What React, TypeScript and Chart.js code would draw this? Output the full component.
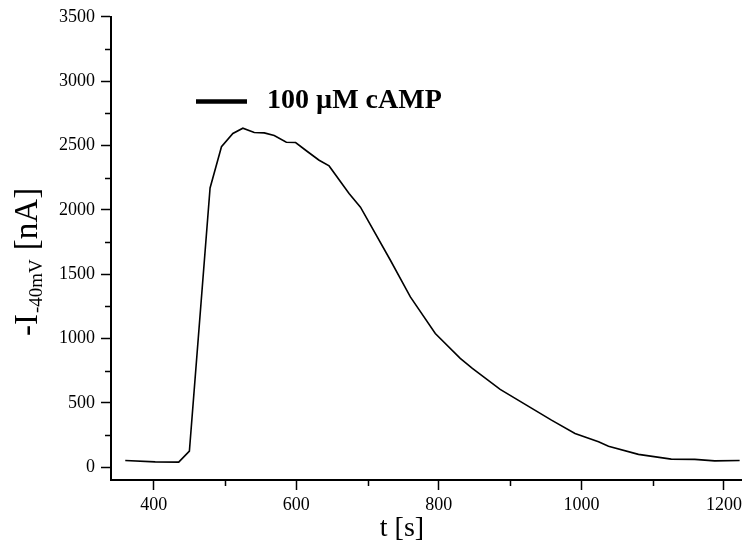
import React, { useEffect, useRef } from "react";
import { Chart, registerables } from "chart.js";

Chart.register(...registerables);

// time in seconds
const timeS = [360, 402, 435, 450, 479, 495, 511, 525, 541, 555, 569, 586, 599, 615, 632, 646, 674, 690, 732, 760, 795, 830, 847, 886, 958, 991, 1024, 1038, 1080, 1126, 1159, 1187, 1222];
// -I(-40mV) in nA
const currentNA = [52, 41, 39, 124, 2170, 2490, 2593, 2634, 2601, 2598, 2577, 2525, 2523, 2455, 2385, 2341, 2127, 2020, 1608, 1323, 1039, 845, 767, 604, 365, 262, 197, 163, 99, 62, 60, 49, 52];

const xMajorTicks = [400, 600, 800, 1000, 1200];
const xMinorTicks = [500, 700, 900, 1100];
const yMajorTicks = [0, 500, 1000, 1500, 2000, 2500, 3000, 3500];
const yMinorTicks = [250, 750, 1250, 1750, 2250, 2750, 3250];

const legendLabel = "100 µM cAMP";
const xTitle = "t [s]";
const yTitleMain = "-I";
const yTitleSub = "-40mV";
const yTitleUnit = "[nA]";

const SERIF = "'Liberation Serif', 'Times New Roman', serif";

const overlayPlugin = {
  id: "overlay",
  afterDraw(chart: any) {
    const ctx = chart.ctx as CanvasRenderingContext2D;
    const xs = chart.scales.x;
    const ys = chart.scales.y;
    const area = chart.chartArea;
    ctx.save();
    ctx.strokeStyle = "#000";
    ctx.lineWidth = 1.5;
    // minor ticks
    ctx.beginPath();
    xMinorTicks.forEach((v) => {
      const px = Math.round(xs.getPixelForValue(v)) + 0.5;
      ctx.moveTo(px, area.bottom);
      ctx.lineTo(px, area.bottom + 6);
    });
    yMinorTicks.forEach((v) => {
      const py = Math.round(ys.getPixelForValue(v)) + 0.5;
      ctx.moveTo(area.left, py);
      ctx.lineTo(area.left - 6, py);
    });
    ctx.stroke();

    // x title
    ctx.fillStyle = "#000";
    ctx.font = `28px ${SERIF}`;
    ctx.textAlign = "center";
    ctx.textBaseline = "alphabetic";
    ctx.fillText(xTitle, 402, 536);

    // y title (rotated)
    ctx.save();
    ctx.translate(37, 336);
    ctx.rotate(-Math.PI / 2);
    ctx.textAlign = "left";
    ctx.font = `33px ${SERIF}`;
    ctx.fillText(yTitleMain, 0, 0);
    let w = ctx.measureText(yTitleMain).width;
    ctx.font = `19px ${SERIF}`;
    ctx.fillText(yTitleSub, w + 1, 5);
    w += 1 + ctx.measureText(yTitleSub).width;
    ctx.font = `33px ${SERIF}`;
    ctx.fillText(yTitleUnit, w + 9, 0);
    ctx.restore();

    // legend
    ctx.lineWidth = 4.5;
    ctx.beginPath();
    ctx.moveTo(196, 101.5);
    ctx.lineTo(247, 101.5);
    ctx.stroke();
    ctx.font = `bold 28px ${SERIF}`;
    ctx.textAlign = "left";
    ctx.fillText(legendLabel, 267, 108);
    ctx.restore();
  },
};

export default function App() {
  const canvasRef = useRef<HTMLCanvasElement | null>(null);

  useEffect(() => {
    if (!canvasRef.current) return;
    const chart = new Chart(canvasRef.current, {
      type: "line",
      data: {
        datasets: [
          {
            data: timeS.map((t, i) => ({ x: t, y: currentNA[i] })),
            borderColor: "#000",
            borderWidth: 1.6,
            pointRadius: 0,
            tension: 0,
            fill: false,
          },
        ],
      },
      options: {
        animation: false,
        responsive: false,
        events: [],
        layout: { padding: { top: 16, right: 1, left: 0, bottom: 0 } },
        plugins: {
          legend: { display: false },
          tooltip: { enabled: false },
          title: { display: false },
        },
        scales: {
          x: {
            type: "linear",
            min: 340,
            max: 1225,
            afterBuildTicks: (scale: any) => {
              scale.ticks = xMajorTicks.map((v) => ({ value: v }));
            },
            afterFit: (scale: any) => {
              scale.height = 67;
            },
            border: { display: true, color: "#000", width: 2 },
            grid: {
              drawOnChartArea: false,
              drawTicks: true,
              tickLength: 10,
              tickColor: "#000",
              tickWidth: 1.5,
            },
            ticks: {
              color: "#000",
              font: { family: SERIF, size: 18 },
              padding: 4,
              maxRotation: 0,
              autoSkip: false,
              callback: (v: any) => String(v),
            },
          },
          y: {
            type: "linear",
            min: -100,
            max: 3500,
            afterBuildTicks: (scale: any) => {
              scale.ticks = yMajorTicks.map((v) => ({ value: v }));
            },
            afterFit: (scale: any) => {
              scale.width = 111;
            },
            border: { display: true, color: "#000", width: 2 },
            grid: {
              drawOnChartArea: false,
              drawTicks: true,
              tickLength: 10,
              tickColor: "#000",
              tickWidth: 1.5,
            },
            ticks: {
              color: "#000",
              font: { family: SERIF, size: 18 },
              padding: 6,
              autoSkip: false,
              callback: (v: any) => String(v),
            },
          },
        },
      },
      plugins: [overlayPlugin],
    });
    return () => chart.destroy();
  }, []);

  return (
    <div style={{ position: "absolute", left: 0, top: 0, width: 746, height: 547, background: "#fff" }}>
      <canvas ref={canvasRef} width={746} height={547} style={{ display: "block" }} />
    </div>
  );
}
